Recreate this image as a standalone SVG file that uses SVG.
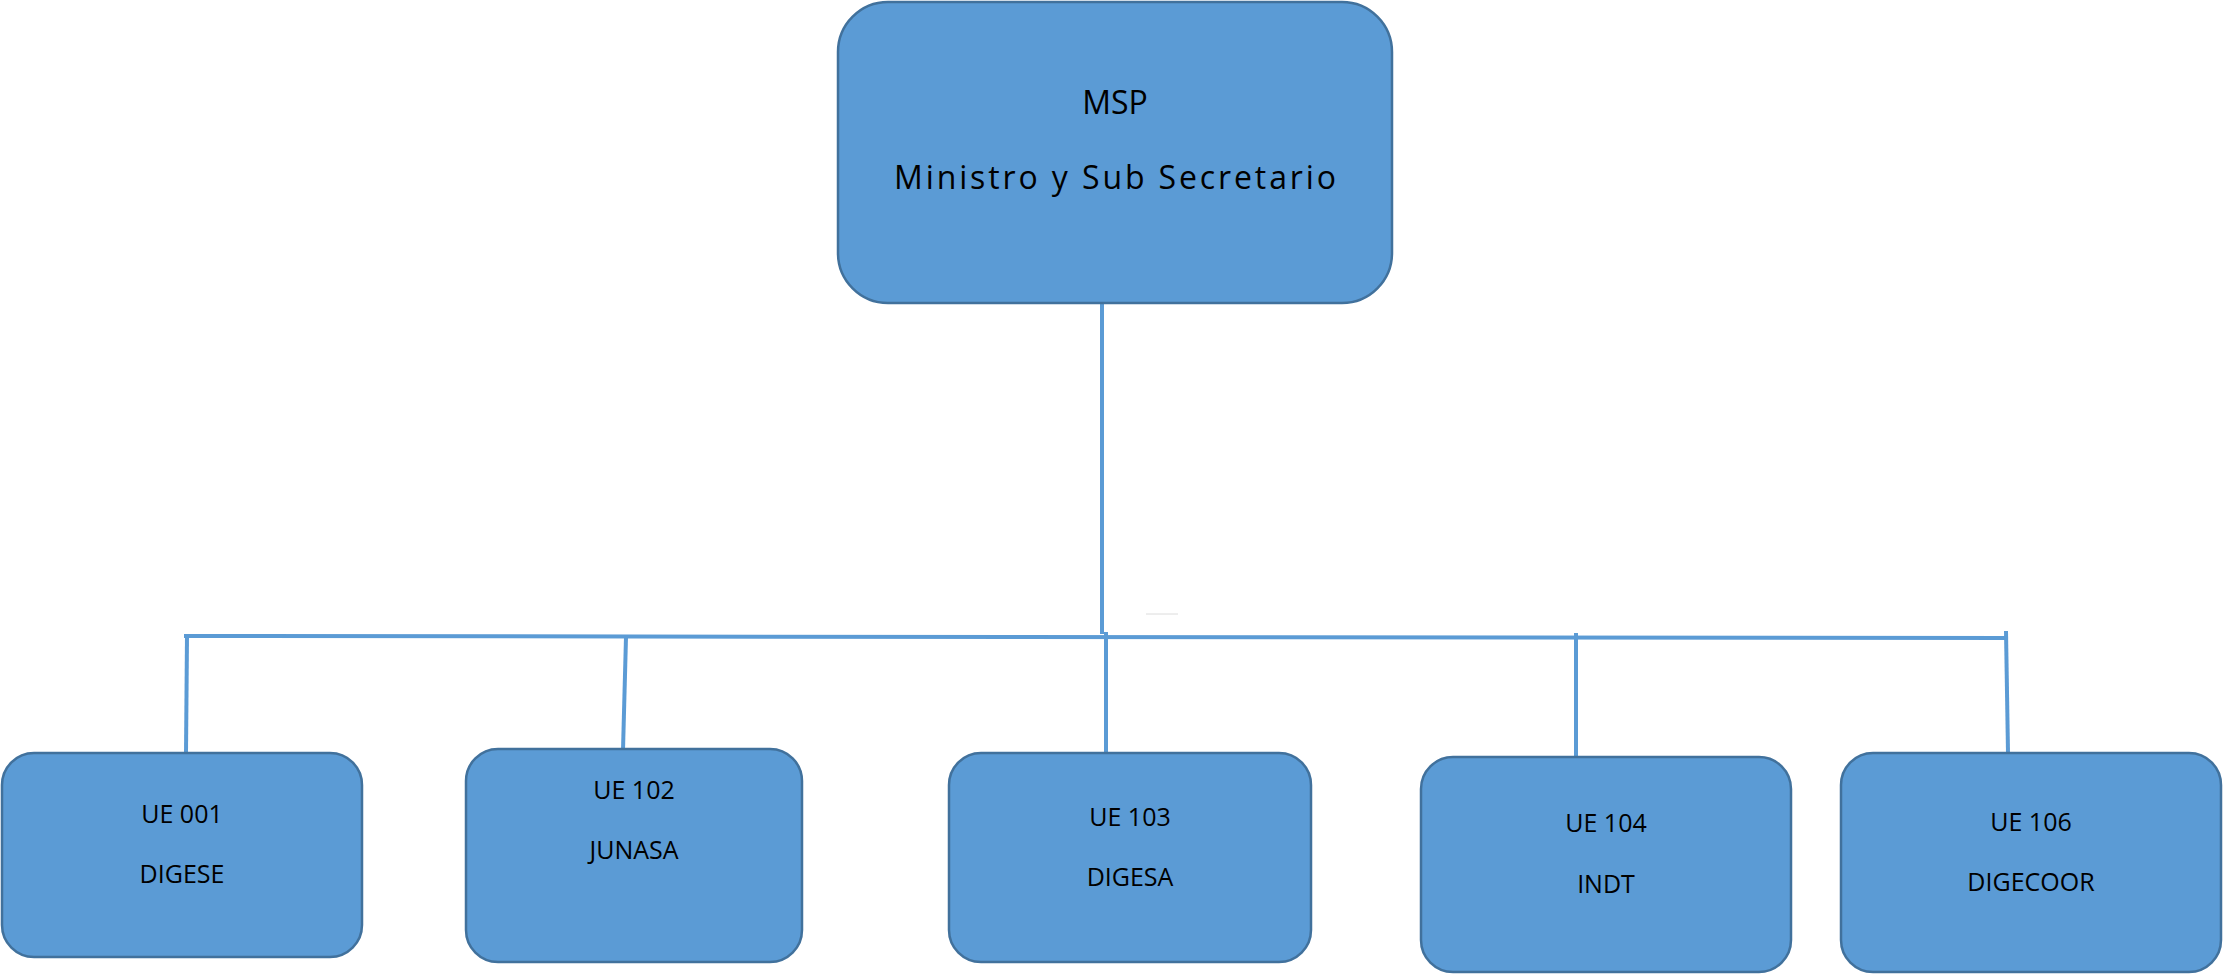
<svg xmlns="http://www.w3.org/2000/svg" width="2223" height="974" viewBox="0 0 2223 974">
<style>
.box{fill:#5B9BD5;stroke:#41719C;stroke-width:2.5}
.ln{stroke:#5B9BD5;stroke-width:4;fill:none}
.t{font-family:"Open Sans","Liberation Sans",Arial,sans-serif;fill:#000;text-anchor:middle}
.s{font-size:25px}
.b{font-size:32px}
</style>
<rect width="2223" height="974" fill="#fff"/>
<g id="connectors">
<line class="ln" x1="1102" y1="303" x2="1102" y2="634"/>
<line class="ln" x1="184" y1="636" x2="2008" y2="638"/>
<line class="ln" x1="187" y1="636" x2="186" y2="753"/>
<line class="ln" x1="626" y1="637" x2="623" y2="750"/>
<line class="ln" x1="1106" y1="632" x2="1106" y2="753"/>
<line class="ln" x1="1576" y1="633" x2="1576" y2="757"/>
<line class="ln" x1="2006" y1="631" x2="2008" y2="753"/>
<line x1="1146" y1="614" x2="1178" y2="614" stroke="#dcdcdc" stroke-width="1"/>
</g>
<g id="msp">
<rect class="box" x="838" y="2" width="554" height="301" rx="50"/>
<text class="t b" x="1115" y="114">MSP</text>
<text class="t b" x="1115" y="189" textLength="442" lengthAdjust="spacing">Ministro y Sub Secretario</text>
</g>
<g id="ue001">
<rect class="box" x="2" y="753" width="360" height="204" rx="32"/>
<text class="t s" x="182" y="823">UE 001</text>
<text class="t s" x="182" y="883">DIGESE</text>
</g>
<g id="ue102">
<rect class="box" x="466" y="749" width="336" height="213" rx="32"/>
<text class="t s" x="634" y="799">UE 102</text>
<text class="t s" x="634" y="859">JUNASA</text>
</g>
<g id="ue103">
<rect class="box" x="949" y="753" width="362" height="209" rx="32"/>
<text class="t s" x="1130" y="826">UE 103</text>
<text class="t s" x="1130" y="886">DIGESA</text>
</g>
<g id="ue104">
<rect class="box" x="1421" y="757" width="370" height="215" rx="32"/>
<text class="t s" x="1606" y="832">UE 104</text>
<text class="t s" x="1606" y="893">INDT</text>
</g>
<g id="ue106">
<rect class="box" x="1841" y="753" width="380" height="219" rx="32"/>
<text class="t s" x="2031" y="831">UE 106</text>
<text class="t s" x="2031" y="891">DIGECOOR</text>
</g>
</svg>
